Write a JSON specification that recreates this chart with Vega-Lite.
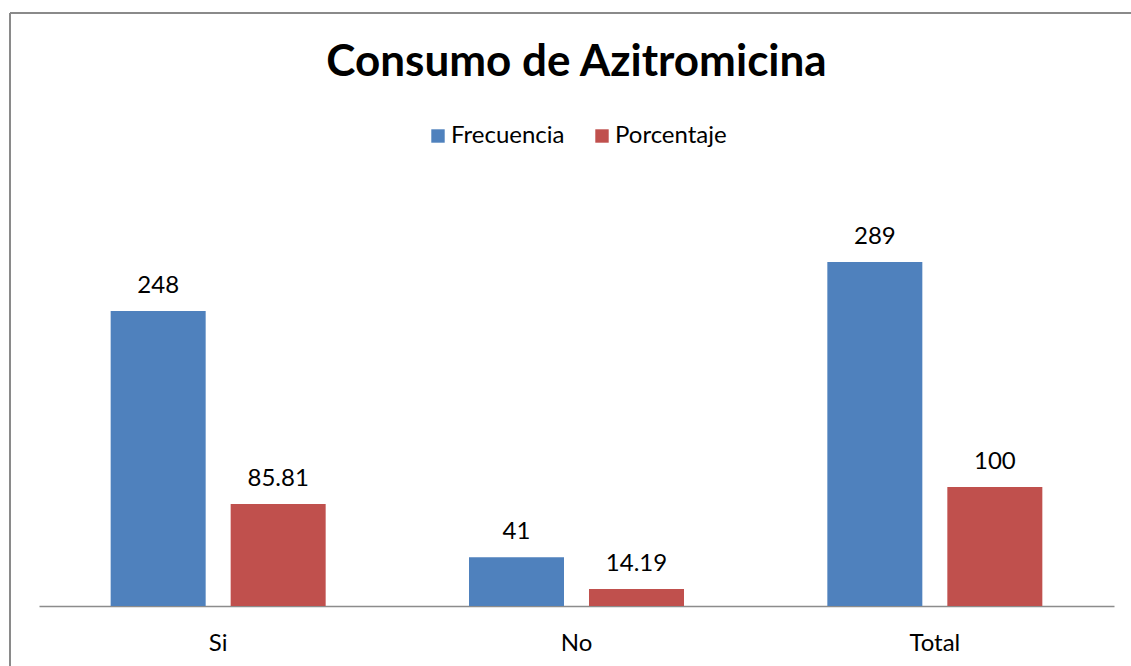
{
  "$schema": "https://vega.github.io/schema/vega-lite/v6.json",
  "width": 1121,
  "height": 653,
  "autosize": {"type": "none"},
  "padding": {"left": 10, "top": 13, "right": 0, "bottom": 0},
  "background": "white",
  "title": {
    "text": "Consumo de Azitromicina",
    "font": "Lato",
    "fontSize": 44,
    "fontWeight": "bold",
    "color": "black",
    "anchor": "middle",
    "frame": "group",
    "baseline": "alphabetic",
    "offset": -107,
    "dx": 6
  },
  "config": {
    "view": {"stroke": "#8a8a8a", "strokeWidth": 2, "strokeDash": [1121, 1774, 653, 0]},
    "font": "Lato"
  },
  "data": {
    "values": [
      {"categoria": "Si", "serie": "Frecuencia", "valor": 248},
      {"categoria": "Si", "serie": "Porcentaje", "valor": 85.81},
      {"categoria": "No", "serie": "Frecuencia", "valor": 41},
      {"categoria": "No", "serie": "Porcentaje", "valor": 14.19},
      {"categoria": "Total", "serie": "Frecuencia", "valor": 289},
      {"categoria": "Total", "serie": "Porcentaje", "valor": 100}
    ]
  },
  "encoding": {
    "x": {
      "field": "categoria",
      "type": "nominal",
      "sort": ["Si", "No", "Total"],
      "scale": {"range": [29, 1104], "paddingInner": 0.4, "paddingOuter": 0.2},
      "axis": {
        "title": null,
        "labelAngle": 0,
        "ticks": false,
        "grid": false,
        "domainColor": "#8c8c8c",
        "domainWidth": 1.5,
        "offset": -60,
        "labelFont": "Lato",
        "labelFontSize": 24,
        "labelColor": "black",
        "labelPadding": 25
      }
    },
    "xOffset": {
      "field": "serie",
      "type": "nominal",
      "sort": ["Frecuencia", "Porcentaje"],
      "scale": {"paddingInner": 0.2083, "paddingOuter": 0}
    },
    "y": {
      "field": "valor",
      "type": "quantitative",
      "scale": {"domain": [0, 350], "range": [593, 176.5]},
      "axis": null
    }
  },
  "layer": [
    {
      "mark": {"type": "bar"},
      "encoding": {
        "color": {
          "field": "serie",
          "type": "nominal",
          "scale": {"domain": ["Frecuencia", "Porcentaje"], "range": ["#4F81BD", "#C0504D"]},
          "legend": {
            "orient": "none",
            "legendX": 416,
            "legendY": 111,
            "direction": "horizontal",
            "title": null,
            "symbolType": "square",
            "symbolSize": 180,
            "symbolStrokeWidth": 0,
            "labelFont": "Lato",
            "labelFontSize": 24,
            "labelColor": "black",
            "labelOffset": 1,
            "columnPadding": 25,
            "padding": 0
          }
        }
      }
    },
    {
      "mark": {"type": "text", "baseline": "alphabetic", "dy": -18, "fontSize": 24, "font": "Lato", "color": "black"},
      "encoding": {
        "text": {"field": "valor", "type": "quantitative", "format": "~f"}
      }
    }
  ]
}
